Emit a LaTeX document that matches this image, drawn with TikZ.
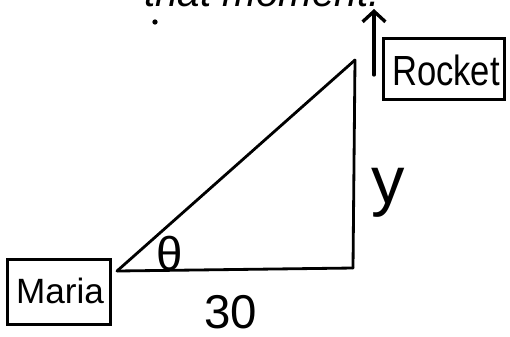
\documentclass[tikz,border=0pt]{standalone}
\usepackage{fontspec}
\setmainfont{Liberation Sans}
\usetikzlibrary{arrows.meta}
\begin{document}
\begin{tikzpicture}[x=0.02cm, y=-0.02cm,
      side/.style ={line width=1.6pt, line cap=round},
      tag/.style ={draw, line width=1.5pt, inner sep=0pt},
      hand/.style ={inner sep=0pt, font=\fontsize{20}{24}\selectfont}]
   \useasboundingbox (0,0) rectangle (510,336);

   \coordinate (M) at (117,271);
   \coordinate (R) at (353,268);
   \coordinate (T) at (355,60);
   \coordinate (P) at (374,75);
   \coordinate (Q) at (374,9);

   \node[anchor=base, inner sep=0pt, font=\itshape\fontsize{23}{28}\selectfont] (moment) at (262,6) {that moment.};
   \node[circle, fill, inner sep=0pt, minimum size=3pt] (dot) at (155,22) {};

   \node[tag, minimum width=2.06cm, minimum height=1.3cm] (mariabox) at (59,292) {};
   \node[hand] (maria) at (60,291) {Maria};
   \node[tag, minimum width=2.42cm, minimum height=1.22cm] (rocketbox) at (444,69) {};
   \node[hand, font=\fontsize{24}{28}\selectfont] (rocket) at (446,70) {\scalebox{0.82}[1]{Rocket}};

   \node[inner sep=0pt, font=\fontsize{27}{32}\selectfont] (theta) at (170,254) {θ};
   \node[inner sep=0pt, font=\fontsize{27}{32}\selectfont] (base) at (231,312) {30};
   \node[inner sep=0pt, font=\fontsize{38}{44}\selectfont] (height) at (388,193) {y};

   \draw[side] (M) to (T);
   \draw[side] (T) to (R);
   \draw[side] (M) to (R);
   \draw[side, line width=1.9pt, -{Straight Barb[length=6pt, width=13pt]}] (P) to (Q);
\end{tikzpicture}
\end{document}
